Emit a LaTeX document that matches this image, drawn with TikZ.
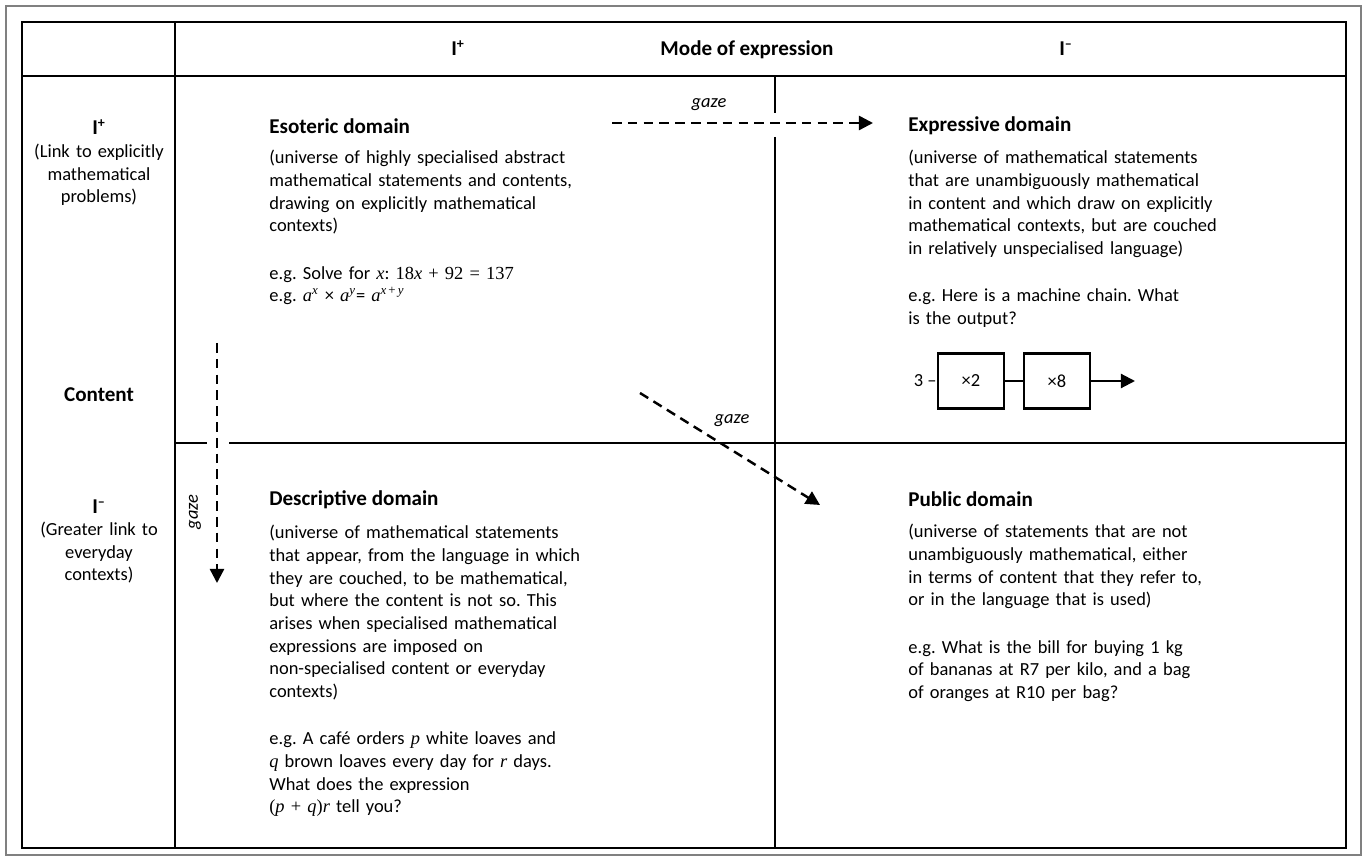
\documentclass[tikz,border=0pt]{standalone}
\usepackage{fontspec}
\setmainfont{Carlito}
\newfontfamily\tmsfont{Liberation Serif}
\usetikzlibrary{arrows.meta}
\frenchspacing

% italic (math) letters in a Times face
\newcommand{\mv}[1]{{\tmsfont\itshape #1}}
\newcommand{\tms}[1]{{\tmsfont #1}}

\tikzset{
  gridline/.style={line width=1.1pt},
  gazearrow/.style={line width=1.4pt, dash pattern=on 5.5pt off 3.5pt, -{Triangle[length=8pt,width=8pt]}},
  gazelabel/.style={font=\fontsize{10.5}{12}\selectfont\itshape, inner sep=0},
  headlabel/.style={font=\fontsize{12}{14}\selectfont\bfseries, anchor=base, inner sep=0},
  sidenote/.style={font=\fontsize{10.5}{12.75}\selectfont, text width=3cm, align=center, anchor=base, inner sep=0},
  domaintitle/.style={font=\fontsize{12}{14}\selectfont\bfseries, anchor=west, inner sep=0},
  domaintext/.style={font=\fontsize{10.5}{12.9}\selectfont\frenchspacing\setlength{\lineskiplimit}{-10pt},
    text width=7cm, align=left, anchor=base west, inner sep=0},
  machine/.style={draw, line width=1.2pt, minimum width=1.32cm, minimum height=1.1cm, inner sep=0, font=\fontsize{10.5}{12}\selectfont},
}

\begin{document}
\begin{tikzpicture}[x=0.02cm, y=-0.02cm]

    % --- 1. Frame and table grid ---
    \useasboundingbox (0,0) rectangle (1367,861);
    \draw[black!50, line width=0.6pt] (6,6) rectangle (1361,855);

    \coordinate (TL) at (22,22);
    \coordinate (BR) at (1346,848);
    \draw[gridline] (TL) rectangle (BR);
    \draw[gridline] (22,76) -- (1346,76);      % header row
    \draw[gridline] (175,22) -- (175,848);     % label column
    % middle lines, broken where a gaze arrow passes
    \draw[gridline] (775,76) -- (775,113);
    \draw[gridline] (775,137) -- (775,848);
    \draw[gridline] (175,443) -- (207,443);
    \draw[gridline] (229,443) -- (1346,443);

    % --- 2. Header row ---
    \node[headlabel] (colplus) at (458,56) {I\textsuperscript{+}};
    \node[headlabel] (mode) at (747,56) {Mode of expression};
    \node[headlabel] (colminus) at (1066,56) {I\textsuperscript{–}};

    % --- 3. Label column ---
    \node[headlabel] (rowplus) at (99,135) {I\textsuperscript{+}};
    \node[sidenote] (rowplusnote) at (99,158) {(Link to explicitly\\mathematical\\problems)};
    \node[headlabel] (content) at (99,402) {Content};
    \node[headlabel] (rowminus) at (99,514) {I\textsuperscript{–}};
    \node[sidenote] (rowminusnote) at (99,536) {(Greater link to\\everyday\\contexts)};

    % --- 4. The four domains ---
    \node[domaintitle] (esoteric) at (269,126) {Esoteric domain};
    \node[domaintext] (esotericnote) at (269,164) {%
      (universe of highly specialised abstract\\
      mathematical statements and contents,\\
      drawing on explicitly mathematical\\
      contexts)\\[14pt]
      e.g. Solve for \mv{x}: \tms{18\mv{x} + 92 = 137}\\
      e.g. \mv{a}\textsuperscript{\mv{x}} × \mv{a}\textsuperscript{\mv{y}}= \mv{a}\textsuperscript{\mv{x}\,\tms{+}\,\mv{y}}};

    \node[domaintitle] (expressive) at (908,126) {Expressive domain};
    \node[domaintext] (expressivenote) at (908,164) {%
      (universe of mathematical statements\\
      that are unambiguously mathematical\\
      in content and which draw on explicitly\\
      mathematical contexts, but are couched\\
      in relatively unspecialised language)\\[14pt]
      e.g. Here is a machine chain. What\\
      is the output?};

    \node[domaintitle] (descriptive) at (269,500) {Descriptive domain};
    \node[domaintext] (descriptivenote) at (269,539) {%
      (universe of mathematical statements\\
      that appear, from the language in which\\
      they are couched, to be mathematical,\\
      but where the content is not so. This\\
      arises when specialised mathematical\\
      expressions are imposed on\\
      non-specialised content or everyday\\
      contexts)\\[14pt]
      e.g. A café orders \mv{p} white loaves and\\
      \mv{q} brown loaves every day for \mv{r} days.\\
      What does the expression\\
      \tms{(\mv{p} + \mv{q})\mv{r}} tell you?};

    \node[domaintitle] (public) at (908,499) {Public domain};
    \node[domaintext] (publicnote) at (908,538) {%
      (universe of statements that are not\\
      unambiguously mathematical, either\\
      in terms of content that they refer to,\\
      or in the language that is used)\\[14pt]
      e.g. What is the bill for buying 1 kg\\
      of bananas at R7 per kilo, and a bag\\
      of oranges at R10 per bag?};

    % --- 5. Machine chain ---
    \node[machine] (times2) at (971,381) {×2};
    \node[machine] (times8) at (1057,381) {×8};
    \node[anchor=east, inner sep=0, font=\fontsize{10.5}{12}\selectfont] (input) at (times2.west) {3 –};
    \coordinate (output) at (1135,381);
    \draw[line width=1.2pt] (times2.east) -- (times8.west);
    \draw[line width=1.2pt, -{Triangle[length=8pt,width=8pt]}] (times8.east) -- (output);

    % --- 6. Gaze arrows ---
    \coordinate (gazeAstart) at (612,123);
    \coordinate (gazeAend) at (873,123);
    \coordinate (gazeBstart) at (217,343);
    \coordinate (gazeBend) at (217,583);
    \coordinate (gazeCstart) at (640,393);
    \coordinate (gazeCend) at (820,505);

    \draw[gazearrow] (gazeAstart) -- (gazeAend);
    \draw[gazearrow] (gazeBstart) -- (gazeBend);
    \draw[gazearrow] (gazeCstart) -- (gazeCend);

    \node[gazelabel] (gazeA) at (709,105) {gaze};
    \node[gazelabel, rotate=90] (gazeB) at (195,512) {gaze};
    \node[gazelabel] (gazeC) at (732,421) {gaze};

\end{tikzpicture}
\end{document}
